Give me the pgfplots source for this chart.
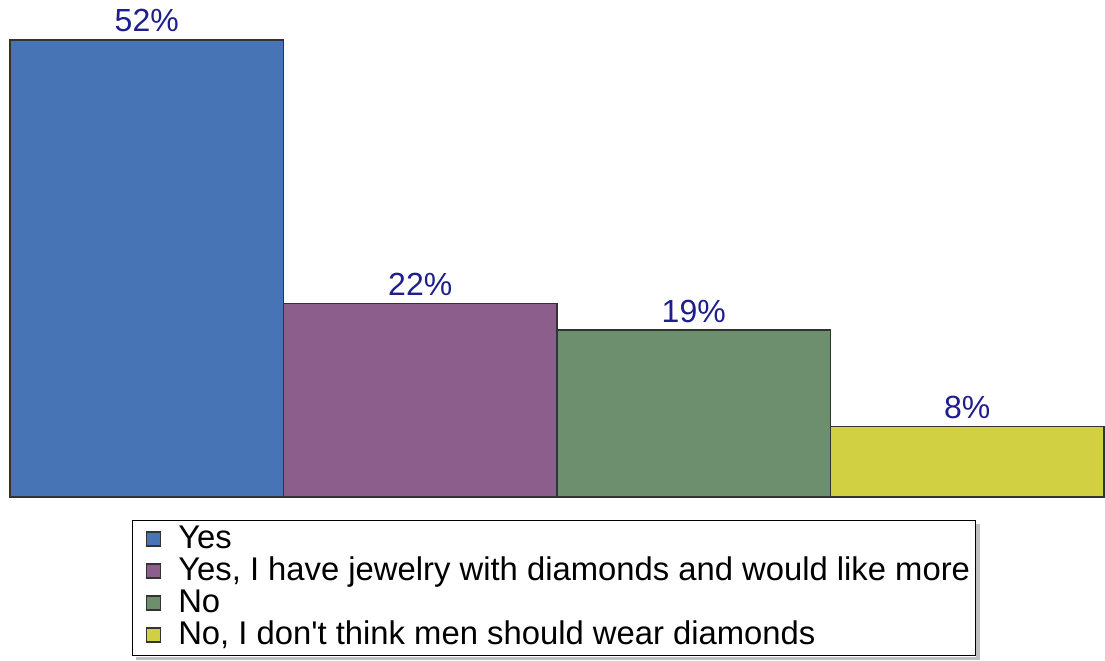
\documentclass[border=0pt]{standalone}
\usepackage{fontspec}
\setmainfont{Liberation Sans}[Ligatures=TeXOff]
\usepackage{pgfplots}
\pgfplotsset{compat=1.18}
\definecolor{cBlue}{RGB}{70,116,180}
\definecolor{cPurple}{RGB}{139,94,140}
\definecolor{cGreen}{RGB}{110,143,110}
\definecolor{cYellow}{RGB}{209,207,66}
\definecolor{cLabel}{RGB}{30,30,140}
\begin{document}
\begin{tikzpicture}[font=\fontsize{16pt}{18pt}\selectfont]
\begin{axis}[
  scale only axis,
  x=136.75pt, y=4.394pt,
  xmin=0, xmax=4, ymin=0, ymax=52,
  hide axis, clip=false,
  ybar,
  /pgf/number format/assume math mode=true,
  nodes near coords={\pgfmathprintnumber{\pgfplotspointmeta}\%},
  every node near coord/.append style={text=cLabel, font=\fontsize{16pt}{18pt}\selectfont, inner sep=3.5pt},
  legend style={name=lgd, at={(0.497,-0.05)}, anchor=north, draw=black, line width=0.6pt,
    font=\fontsize{16.4pt}{18pt}\selectfont, fill=white,
    nodes={text height=11.5pt, text depth=3.5pt, inner ysep=0.5pt, inner xsep=0.5pt},
    cells={anchor=west}, inner xsep=2pt, inner ysep=1.8pt},
  legend image code/.code={\draw[#1, line width=0.6pt] (5pt,-3pt) rectangle (12pt,4pt); \path[draw=none,fill=none] (0pt,0pt) -- (20.5pt,0pt);},
]
\addplot[fill=cBlue, draw=black!80, line width=0.7pt, bar width=136.75pt, bar shift=0pt] coordinates {(0.5,52)};
\addplot[fill=cPurple, draw=black!80, line width=0.7pt, bar width=136.75pt, bar shift=0pt] coordinates {(1.5,22)};
\addplot[fill=cGreen, draw=black!80, line width=0.7pt, bar width=136.75pt, bar shift=0pt] coordinates {(2.5,19)};
\addplot[fill=cYellow, draw=black!80, line width=0.7pt, bar width=136.75pt, bar shift=0pt] coordinates {(3.5,8)};
\legend{Yes, {Yes, I have jewelry with diamonds and would like more}, No, {No, I don't think men should wear diamonds}}
\end{axis}
\fill[black!25] ([xshift=0.3pt,yshift=-2pt]lgd.north east) rectangle ([xshift=2pt,yshift=-2pt]lgd.south east);
\fill[black!25] ([xshift=2pt,yshift=-0.3pt]lgd.south west) rectangle ([xshift=2pt,yshift=-2pt]lgd.south east);
\path (-5pt,-81pt) rectangle (547.5pt,248.5pt);
\end{tikzpicture}
\end{document}
